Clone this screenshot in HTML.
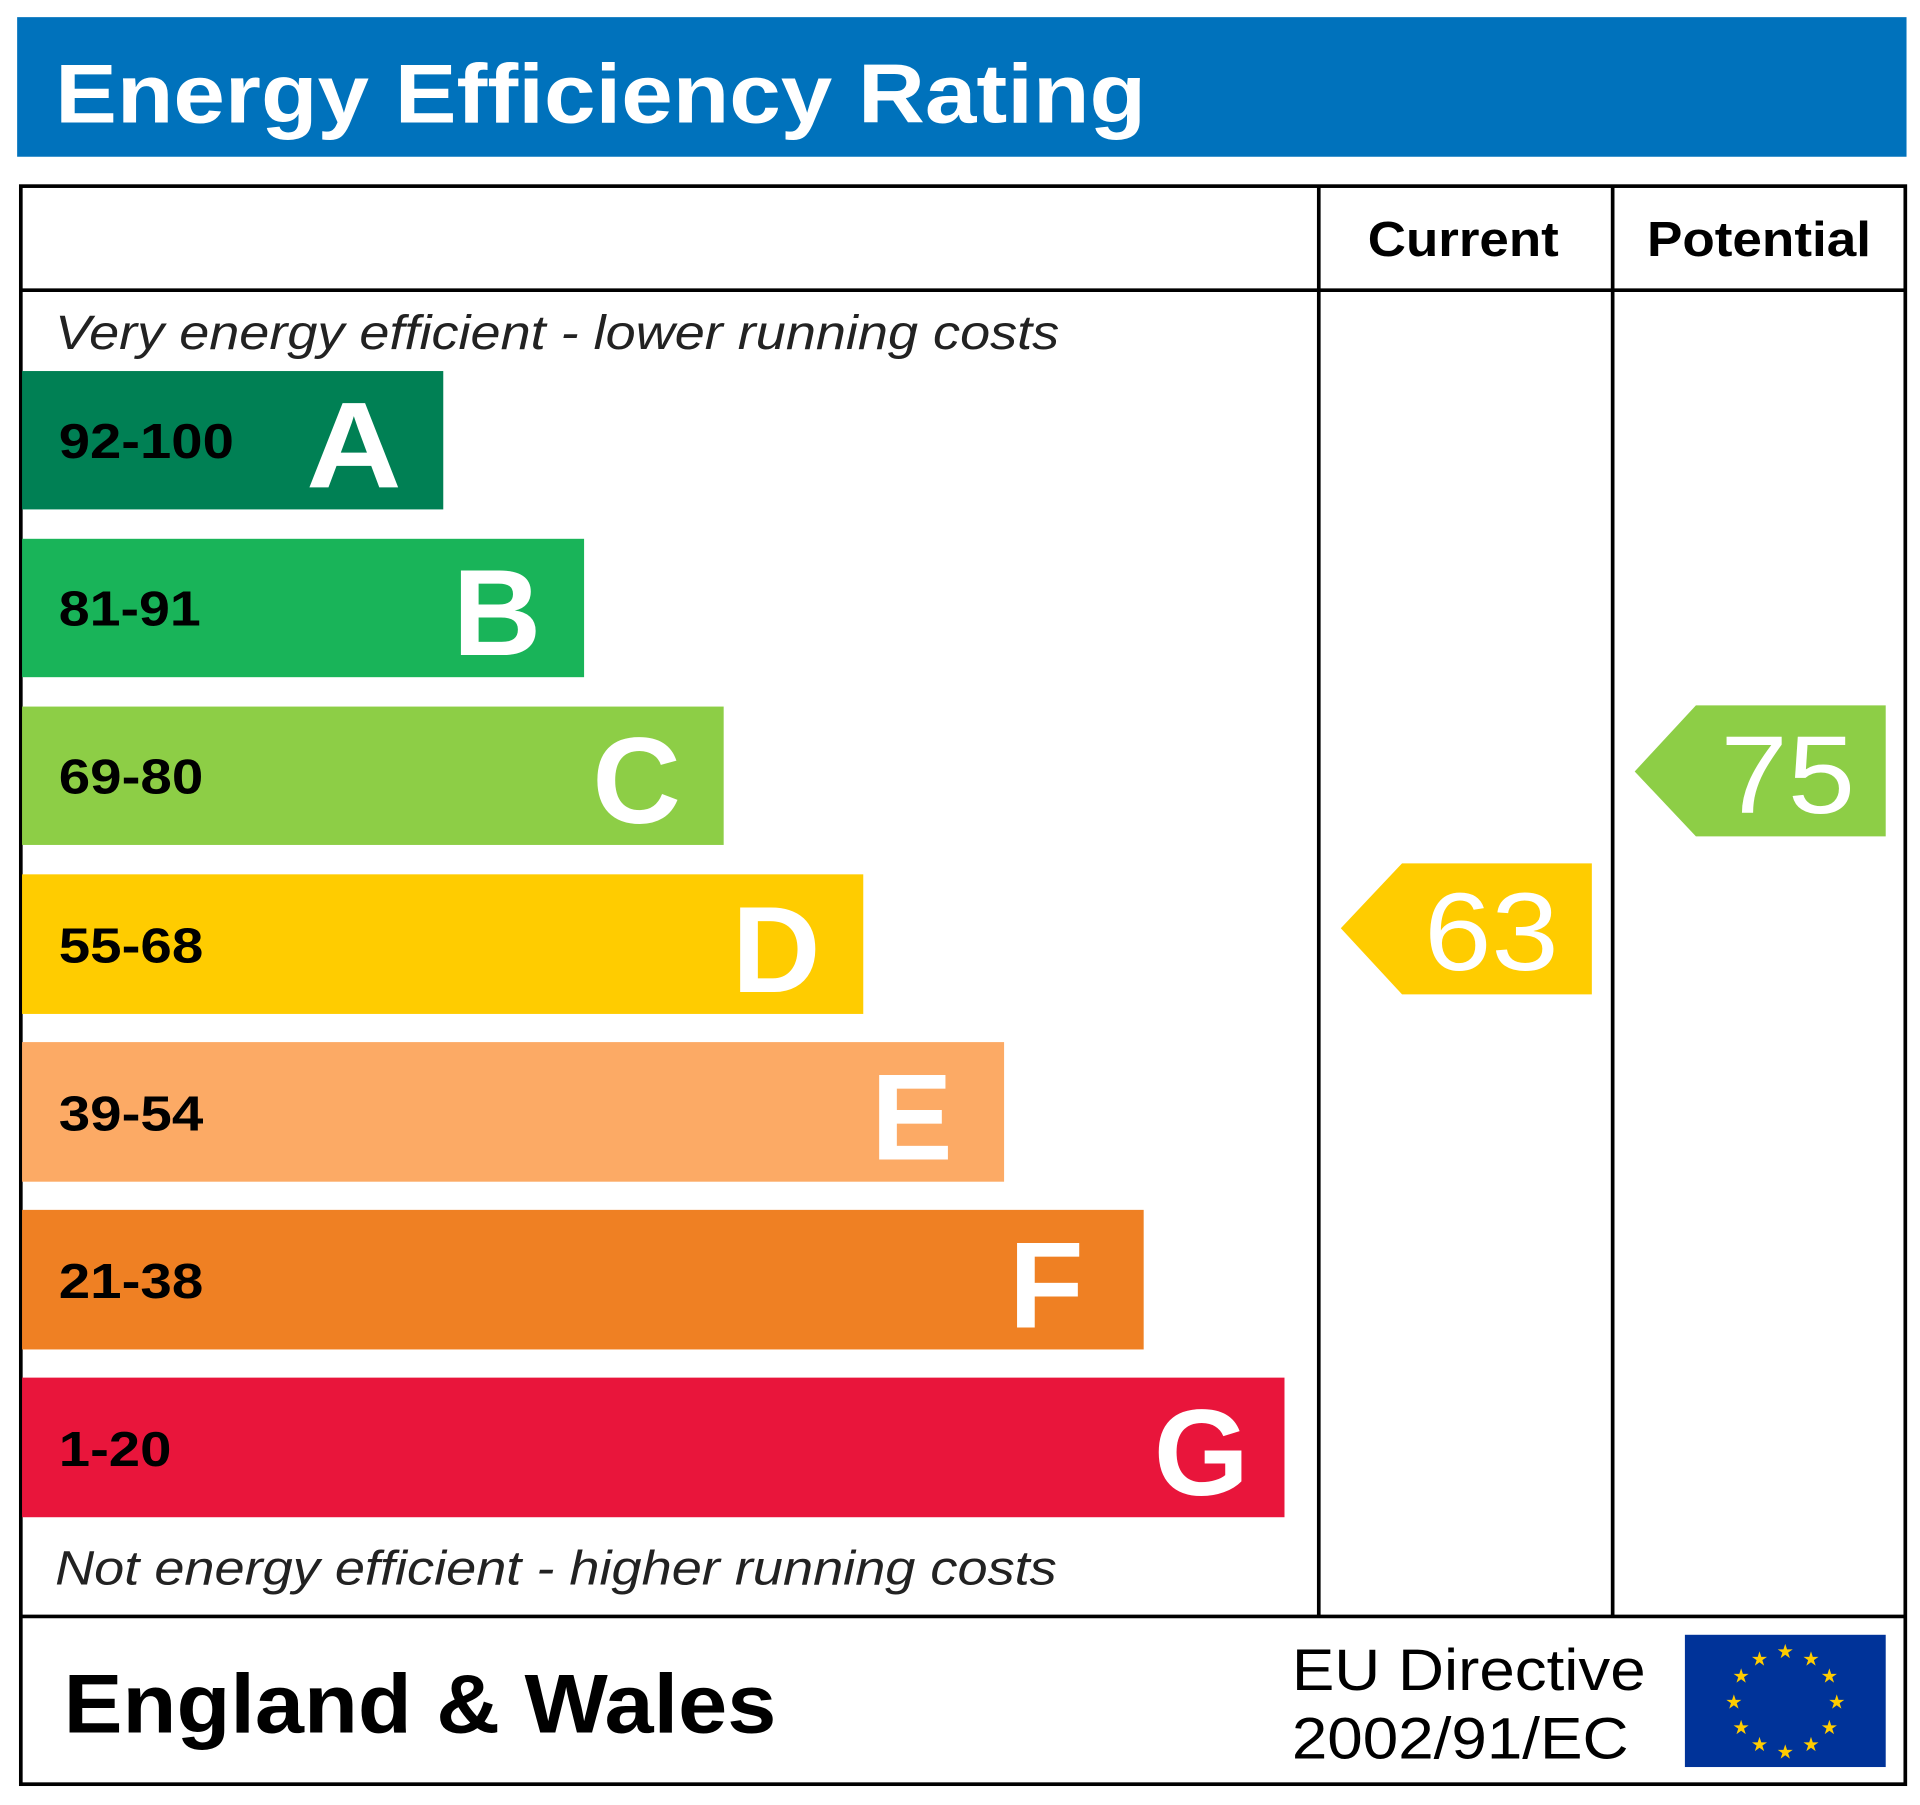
<!DOCTYPE html>
<html><head><meta charset="utf-8"><style>
html,body{margin:0;padding:0;background:#fff;}
svg{display:block;}
text{font-family:"Liberation Sans",Arial,sans-serif;}
</style></head><body>
<svg width="1920" height="1805" viewBox="0 0 1568 1474" preserveAspectRatio="none" xmlns="http://www.w3.org/2000/svg">
<rect x="0" y="0" width="1568" height="1474" fill="#fff"/>
<rect x="14" y="14" width="1543" height="114" fill="#0072bc"/>
<text x="45" y="100" font-size="68" font-weight="bold" fill="#fff" textLength="891" lengthAdjust="spacingAndGlyphs">Energy Efficiency Rating</text>
<rect x="17" y="152" width="1539" height="1305" fill="none" stroke="#000" stroke-width="3"/>
<line x1="17" y1="237" x2="1556" y2="237" stroke="#000" stroke-width="3"/>
<line x1="1077" y1="152" x2="1077" y2="1320" stroke="#000" stroke-width="3"/>
<line x1="1317" y1="152" x2="1317" y2="1320" stroke="#000" stroke-width="3"/>
<line x1="17" y1="1320" x2="1556" y2="1320" stroke="#000" stroke-width="3"/>
<text x="1117" y="209" font-size="40" font-weight="bold" textLength="156" lengthAdjust="spacingAndGlyphs">Current</text>
<text x="1345" y="209" font-size="40" font-weight="bold" textLength="183" lengthAdjust="spacingAndGlyphs">Potential</text>
<text x="45" y="285" font-size="39" font-style="italic" fill="#222" textLength="820" lengthAdjust="spacingAndGlyphs">Very energy efficient - lower running costs</text>
<text x="45" y="1294" font-size="39" font-style="italic" fill="#222" textLength="818" lengthAdjust="spacingAndGlyphs">Not energy efficient - higher running costs</text>

<g font-weight="bold">
<rect x="18" y="303" width="344" height="113" fill="#008054"/>
<text x="48" y="374" font-size="40" textLength="143" lengthAdjust="spacingAndGlyphs">92-100</text>
<text x="250" y="398" font-size="100" fill="#fff" textLength="78" lengthAdjust="spacingAndGlyphs">A</text>

<rect x="18" y="440" width="459" height="113" fill="#19b459"/>
<text x="48" y="511" font-size="40" textLength="116" lengthAdjust="spacingAndGlyphs">81-91</text>
<text x="442" y="535" font-size="100" fill="#fff" text-anchor="end">B</text>

<rect x="18" y="577" width="573" height="113" fill="#8dce46"/>
<text x="48" y="648" font-size="40" textLength="118" lengthAdjust="spacingAndGlyphs">69-80</text>
<text x="556" y="672" font-size="100" fill="#fff" text-anchor="end">C</text>

<rect x="18" y="714" width="687" height="114" fill="#ffcc00"/>
<text x="48" y="786" font-size="40" textLength="118" lengthAdjust="spacingAndGlyphs">55-68</text>
<text x="670" y="810" font-size="100" fill="#fff" text-anchor="end">D</text>

<rect x="18" y="851" width="802" height="114" fill="#fcaa65"/>
<text x="48" y="923" font-size="40" textLength="118" lengthAdjust="spacingAndGlyphs">39-54</text>
<text x="778" y="947" font-size="100" fill="#fff" text-anchor="end">E</text>

<rect x="18" y="988" width="916" height="114" fill="#ef8023"/>
<text x="48" y="1060" font-size="40" textLength="118" lengthAdjust="spacingAndGlyphs">21-38</text>
<text x="885" y="1084" font-size="100" fill="#fff" text-anchor="end">F</text>

<rect x="18" y="1125" width="1031" height="114" fill="#e9153b"/>
<text x="48" y="1197" font-size="40" textLength="92" lengthAdjust="spacingAndGlyphs">1-20</text>
<text x="1020" y="1221" font-size="100" fill="#fff" text-anchor="end">G</text>
</g>

<polygon points="1095,758 1145,705 1300,705 1300,812 1145,812" fill="#ffcc00"/>
<text x="1163" y="792" font-size="90" fill="#fff" textLength="110" lengthAdjust="spacingAndGlyphs">63</text>
<polygon points="1335,630 1385,576 1540,576 1540,683 1385,683" fill="#8dce46"/>
<text x="1405" y="664" font-size="90" fill="#fff" textLength="110" lengthAdjust="spacingAndGlyphs">75</text>

<text x="52" y="1415" font-size="68" font-weight="bold" textLength="582" lengthAdjust="spacingAndGlyphs">England &amp; Wales</text>
<text x="1055" y="1380" font-size="48" textLength="289" lengthAdjust="spacingAndGlyphs">EU Directive</text>
<text x="1055" y="1436" font-size="48" textLength="275" lengthAdjust="spacingAndGlyphs">2002/91/EC</text>
<rect x="1376" y="1335" width="164" height="108" fill="#003399"/>
<g fill="#ffcc00" font-size="16" text-anchor="middle">
<text x="1458" y="1354">★</text>
<text x="1479" y="1360">★</text>
<text x="1494" y="1374">★</text>
<text x="1500" y="1395">★</text>
<text x="1494" y="1416">★</text>
<text x="1479" y="1430">★</text>
<text x="1458" y="1436">★</text>
<text x="1437" y="1430">★</text>
<text x="1422" y="1416">★</text>
<text x="1416" y="1395">★</text>
<text x="1422" y="1374">★</text>
<text x="1437" y="1360">★</text>
</g>
</svg>
</body></html>
